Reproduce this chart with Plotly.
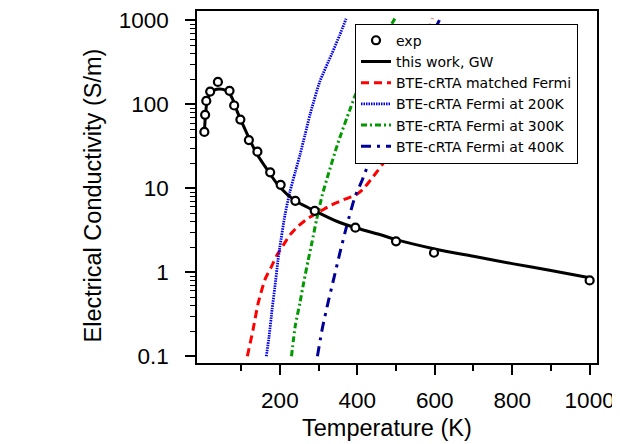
import plotly.graph_objects as go

# ---- data ----
T_exp = [5, 7, 10, 20, 40, 70, 82, 98, 120, 142, 175, 202, 240, 290, 395, 500, 598, 1000]
s_exp = [47, 75, 110, 142, 185, 145, 97, 66, 37.6, 27.3, 15.5, 11, 7.1, 5.4, 3.4, 2.34, 1.71, 0.80]

T_gw = [5, 8, 12, 20, 30, 45, 60, 70, 80, 90, 100, 120, 140, 170, 200, 240, 290, 350, 400, 460, 500, 600, 700, 800, 900, 1000]
s_gw = [47, 75, 109, 137, 148, 152, 147, 135, 110, 82, 64, 40, 26, 16, 10.3, 7.1, 5.4, 4.0, 3.35, 2.8, 2.45, 1.9, 1.55, 1.27, 1.05, 0.86]

T_red = [116, 131, 144, 162, 178, 191, 209, 226, 248, 273, 304, 329, 364, 395, 415, 441, 476, 500, 530, 560, 594]
s_red = [0.1, 0.21, 0.43, 0.83, 1.16, 1.56, 2.11, 2.79, 3.57, 4.4, 5.3, 6.2, 7.3, 8.3, 9.8, 13.8, 23, 45, 112, 316, 1060]

T_200 = [165, 172, 180, 187, 195, 200, 213, 226, 240, 252, 265, 278, 303, 334, 355, 371]
s_200 = [0.1, 0.17, 0.363, 0.66, 1.38, 2.0, 4.79, 9.12, 15.8, 25.1, 43.7, 75.9, 186, 398, 676, 1047]

T_300 = [230, 240, 252, 262, 273, 283, 295, 310, 322, 350, 381, 394, 430, 460, 497]
s_300 = [0.1, 0.234, 0.436, 0.776, 1.38, 2.29, 4.27, 8.5, 13.2, 34.7, 87, 126, 288, 537, 1050]

T_400 = [297, 310, 325, 340, 355, 372, 394, 411, 433, 480, 530, 570, 614]
s_400 = [0.1, 0.219, 0.447, 0.871, 1.70, 3.47, 7.94, 12.0, 21.9, 63, 178, 417, 1050]

x_major = [200, 400, 600, 800, 1000]
x_minor = [100, 300, 500, 700, 900]
y_major = [0.1, 1, 10, 100, 1000]
y_labels = ["0.1", "1", "10", "100", "1000"]
y_minor = [m * d for d in (0.1, 1, 10, 100) for m in range(2, 10)]

FONT = "Liberation Sans, Arial, Helvetica, sans-serif"

fig = go.Figure()
fig.add_trace(go.Scatter(x=T_red, y=s_red, mode="lines", name="BTE-cRTA matched Fermi",
                         line=dict(color="#ff0000", width=3, dash="8px,5px", shape="spline", smoothing=0.6),
                         legendrank=3))
fig.add_trace(go.Scatter(x=T_200, y=s_200, mode="lines", name="BTE-cRTA Fermi at 200K",
                         line=dict(color="#0000ee", width=2.8, dash="1.5px,1px", shape="spline", smoothing=0.6),
                         legendrank=4))
fig.add_trace(go.Scatter(x=T_300, y=s_300, mode="lines", name="BTE-cRTA Fermi at 300K",
                         line=dict(color="#009900", width=3, dash="6px,3px,2px,3px", shape="spline", smoothing=0.6),
                         legendrank=5))
fig.add_trace(go.Scatter(x=T_400, y=s_400, mode="lines", name="BTE-cRTA Fermi at 400K",
                         line=dict(color="#000099", width=3, dash="10px,6px,3px,6px", shape="spline", smoothing=0.6),
                         legendrank=6))
fig.add_trace(go.Scatter(x=T_gw, y=s_gw, mode="lines", name="this work, GW",
                         line=dict(color="black", width=3, shape="spline", smoothing=0.8),
                         legendrank=2))
fig.add_trace(go.Scatter(x=T_exp, y=s_exp, mode="markers", name="exp",
                         marker=dict(symbol="circle", size=8, color="white",
                                     line=dict(color="black", width=2.2)),
                         legendrank=1))

# the page body has an 8px margin, so the figure is sized 612x436
fig.update_layout(
    width=612, height=436,
    margin=dict(l=189, r=23, t=3, b=81),
    paper_bgcolor="white", plot_bgcolor="white",
    font=dict(family=FONT, color="black", size=22),
    showlegend=True,
    legend=dict(x=0.395, y=0.964, xanchor="left", yanchor="top",
                bgcolor="white", bordercolor="black", borderwidth=1,
                font=dict(size=14, family="DejaVu Sans, " + FONT), tracegroupgap=0),
    annotations=[
        dict(text="Temperature (K)", xref="paper", yref="paper", x=0.475, y=-0.1847,
             xanchor="center", yanchor="middle", showarrow=False, font=dict(size=23.5)),
        dict(text="Electrical Conductivity (S/m)", xref="paper", yref="paper", x=-0.259, y=0.477,
             xanchor="center", yanchor="middle", showarrow=False, textangle=-90, font=dict(size=23.5)),
    ],
)
fig.update_xaxes(
    range=[-14, 1019], showgrid=False, zeroline=False, automargin=False,
    showline=True, linecolor="black", linewidth=1.5, mirror=True,
    ticks="outside", ticklen=10, tickwidth=1.5, tickcolor="black",
    tickvals=x_major, ticktext=[str(v) for v in x_major],
    tickfont=dict(size=22.5), ticklabelstandoff=6,
    minor=dict(tickvals=x_minor, ticks="outside", ticklen=6, tickwidth=1.5, tickcolor="black"),
)
fig.update_yaxes(
    type="log", range=[-1.08, 3.112], showgrid=False, zeroline=False, automargin=False,
    showline=True, linecolor="black", linewidth=1.5, mirror=True,
    ticks="outside", ticklen=10, tickwidth=1.5, tickcolor="black",
    tickvals=y_major, ticktext=y_labels,
    tickfont=dict(size=22.5), ticklabelstandoff=12,
    minor=dict(tickvals=y_minor, ticks="outside", ticklen=5, tickwidth=1.2, tickcolor="black"),
)

fig.write_html("out.html")
